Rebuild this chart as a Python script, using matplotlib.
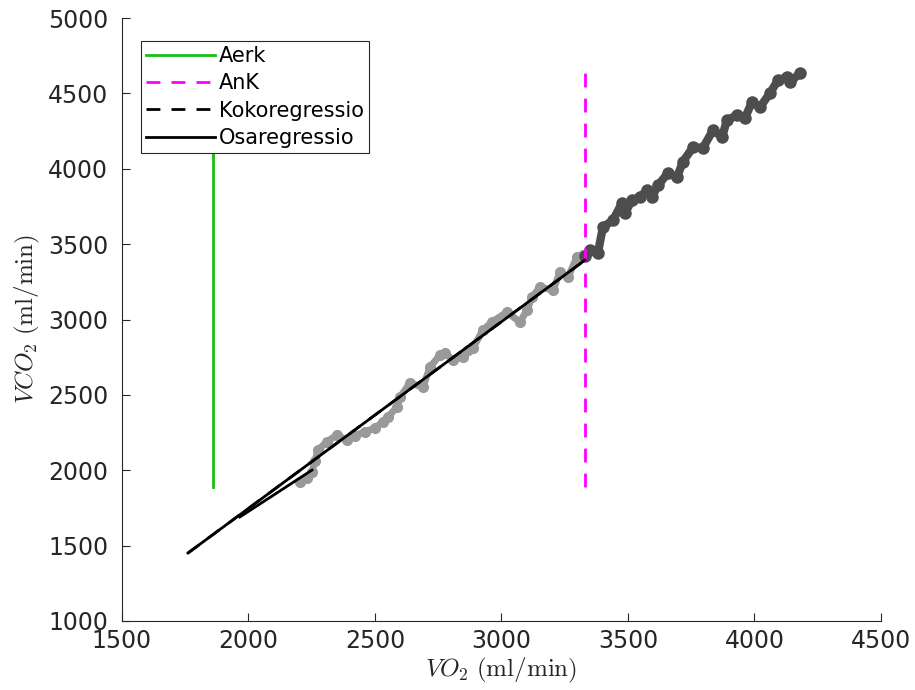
import numpy as np
import matplotlib
matplotlib.use("Agg")
from matplotlib import pyplot as plt

plt.rcParams['mathtext.fontset'] = 'cm'

# aerobic part of the test (below AnK)
vo2_low = [2204, 2230, 2251, 2262, 2275, 2310, 2350, 2389, 2420, 2460, 2500, 2530,
           2551, 2587, 2599, 2638, 2690, 2717, 2757, 2777, 2808, 2848, 2868, 2887,
           2927, 2962, 3021, 3073, 3101, 3121, 3152, 3204, 3231, 3263, 3298, 3322]
vco2_low = [1922, 1950, 1988, 2060, 2134, 2190, 2233, 2200, 2230, 2255, 2280, 2320,
            2353, 2419, 2485, 2578, 2552, 2684, 2764, 2777, 2731, 2751, 2797, 2810,
            2930, 2983, 3049, 2983, 3062, 3149, 3215, 3195, 3314, 3281, 3414, 3427]

# above AnK
vo2_high = [3330, 3350, 3381, 3401, 3441, 3476, 3488, 3516, 3547, 3575, 3595, 3619,
            3658, 3694, 3717, 3757, 3796, 3836, 3872, 3891, 3931, 3962, 3990, 4022,
            4061, 4093, 4128, 4140, 4180]
vco2_high = [3420, 3460, 3440, 3613, 3659, 3772, 3706, 3792, 3812, 3858, 3812, 3891,
             3971, 3944, 4047, 4143, 4137, 4256, 4210, 4322, 4355, 4335, 4442, 4409,
             4501, 4588, 4607, 4574, 4634]

aerk = 1860
ank = 3330
thr_y = [1890, 4645]

koko_x = [1761, 3330]
koko_y = [1451, 3394]
osa_x = [1966, 2251]
osa_y = [1690, 2001]

fig = plt.figure(figsize=(9.15, 6.9), dpi=100)
ax = fig.add_axes([0.1333, 0.1, 0.8295, 0.8739])

ax.plot(vo2_low, vco2_low, '-o', color=[0.6, 0.6, 0.6], ms=7, lw=5,
        solid_capstyle='round', solid_joinstyle='round', zorder=1)
ax.plot(vo2_high, vco2_high, '-o', color=[0.3, 0.3, 0.3], ms=8, lw=6,
        solid_capstyle='round', solid_joinstyle='round', zorder=1)

ax.plot([aerk, aerk], thr_y, '-', color=[0.1, 0.75, 0.1], lw=2, label='Aerk')
ax.plot([ank, ank], thr_y, '--', color='#ff00ff', lw=2, label='AnK', dashes=(5, 4))
ax.plot(koko_x, koko_y, '--', color='k', lw=2, label='Kokoregressio', dashes=(5, 4))
ax.plot(koko_x, koko_y, '-', color='k', lw=2, label='Osaregressio')
ax.plot(osa_x, osa_y, '-', color='k', lw=2)

ax.set_xlim(1500, 4500)
ax.set_ylim(1000, 5000)
ax.set_xticks(np.arange(1500, 4501, 500))
ax.set_yticks(np.arange(1000, 5001, 500))
for s in ['top', 'right']:
    ax.spines[s].set_visible(False)
for s in ['left', 'bottom']:
    ax.spines[s].set_color('#262626')
ax.tick_params(direction='in', length=6, labelsize=17, colors='#262626')
ax.tick_params(axis='y', pad=10)
ax.tick_params(axis='x', pad=6)

ax.set_xlabel(r'$VO_2\ \mathrm{(ml/min)}$', fontsize=18, color='#262626', labelpad=2)
ax.set_ylabel(r'$VCO_2\ \mathrm{(ml/min)}$', fontsize=18, color='#262626', labelpad=4)

leg = ax.legend(loc='upper left', bbox_to_anchor=(0.025, 0.962), borderaxespad=0,
                fontsize=15, fancybox=False, framealpha=1, edgecolor='#262626',
                handlelength=3.3, handletextpad=0.2, labelspacing=0.35,
                borderpad=0.25)
leg.get_frame().set_linewidth(0.8)

fig.savefig('out.png', dpi=100)
